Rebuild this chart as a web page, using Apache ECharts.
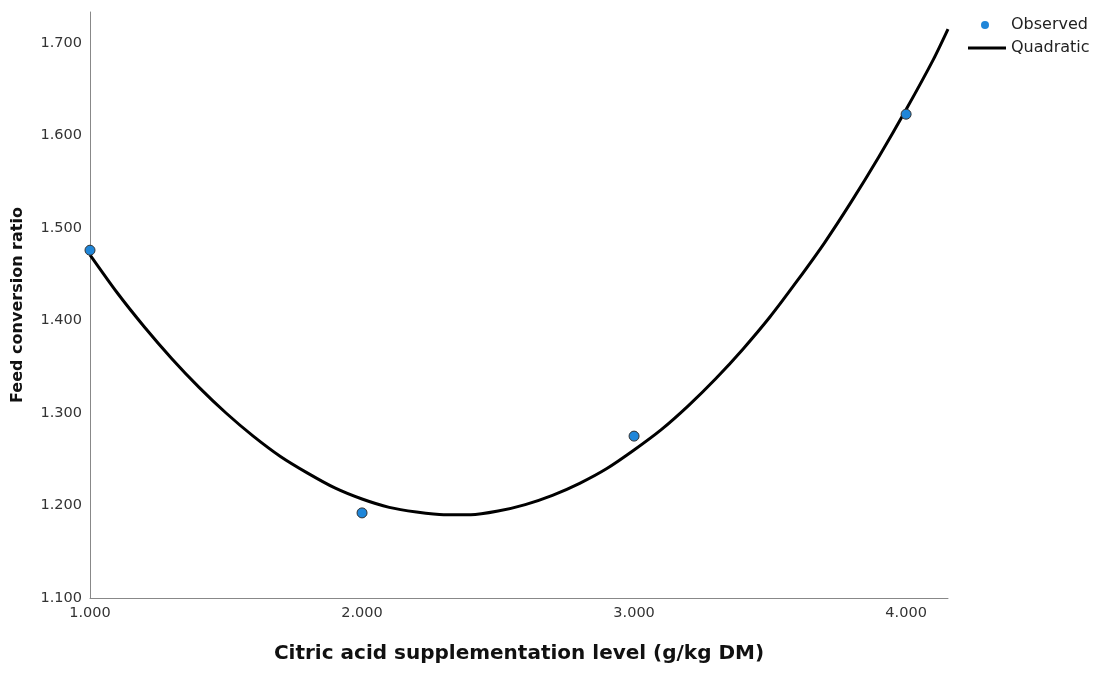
<!DOCTYPE html>
<html>
<head>
<meta charset="utf-8">
<script src="https://cdn.jsdelivr.net/npm/echarts@6/dist/echarts.min.js"></script>
<style>
html,body{margin:0;padding:0;background:#fff;overflow:hidden;}
#chart{width:1098px;height:673px;}
</style>
</head>
<body>
<div id="chart"></div>
<script>
// Observed points
const obsX = [1, 2, 3, 4];
const obsY = [1.476, 1.192, 1.275, 1.623];
// Quadratic curve, values
const curveX = [1.0, 1.1, 1.2, 1.3, 1.4, 1.5, 1.6, 1.7, 1.8, 1.9, 2.0, 2.1, 2.2, 2.3, 2.4, 2.5, 2.6, 2.7, 2.8, 2.9, 3.0, 3.1, 3.2, 3.3, 3.4, 3.5, 3.6, 3.7, 3.8, 3.9, 4.0, 4.1, 4.154];
const curveY = [1.471, 1.430, 1.393, 1.359, 1.328, 1.300, 1.275, 1.253, 1.235, 1.219, 1.207, 1.198, 1.193, 1.190, 1.190, 1.194, 1.201, 1.211, 1.224, 1.240, 1.260, 1.282, 1.308, 1.337, 1.369, 1.404, 1.443, 1.484, 1.529, 1.577, 1.628, 1.682, 1.715];
// Axis settings
const xTicks = [1, 2, 3, 4];
const yTicks = [1.1, 1.2, 1.3, 1.4, 1.5, 1.6, 1.7];

const font = '"DejaVu Sans", "Liberation Sans", Arial, sans-serif';
const chart = echarts.init(document.getElementById('chart'), null, {renderer: 'canvas'});
chart.setOption({
  animation: false,
  backgroundColor: '#fff',
  grid: {left: 90, right: 150, top: 12, bottom: 75, containLabel: false, outerBoundsMode: 'none'},
  legend: [
    {
      left: 976, top: 12, itemWidth: 34, itemHeight: 8, icon: 'circle',
      textStyle: {fontFamily: font, fontSize: 16, color: '#222', padding: [0, 0, 0, 4]},
      itemStyle: {color: '#1f86d9', borderWidth: 0},
      data: ['Observed']
    },
    {
      left: 963, top: 35, itemWidth: 38, itemHeight: 3, icon: 'rect',
      textStyle: {fontFamily: font, fontSize: 16, color: '#222'},
      itemStyle: {color: '#000', borderWidth: 0},
      data: ['Quadratic']
    }
  ],
  xAxis: {
    type: 'value', min: 1, max: 4.154, interval: 1,
    name: 'Citric acid supplementation level (g/kg DM)',
    nameLocation: 'middle', nameGap: 46,
    nameTextStyle: {fontFamily: font, fontSize: 20, fontWeight: 'bold', color: '#111'},
    axisLine: {lineStyle: {color: '#888', width: 1}},
    axisTick: {show: false}, splitLine: {show: false},
    axisLabel: {fontFamily: font, fontSize: 14.5, color: '#333', margin: 8,
      formatter: v => xTicks.some(t => Math.abs(t - v) < 1e-9) ? v.toFixed(3) : ''}
  },
  yAxis: {
    type: 'value', min: 1.1, max: 1.7335, interval: 0.1,
    name: 'Feed conversion ratio',
    nameLocation: 'middle', nameGap: 64, nameRotate: 90,
    nameTextStyle: {fontFamily: font, fontSize: 16, fontWeight: 'bold', color: '#111'},
    axisLine: {show: true, lineStyle: {color: '#888', width: 1}},
    axisTick: {show: false}, splitLine: {show: false},
    axisLabel: {fontFamily: font, fontSize: 14.5, color: '#333', margin: 8,
      formatter: v => yTicks.some(t => Math.abs(t - v) < 1e-6) ? v.toFixed(3) : ''}
  },
  series: [
    {
      name: 'Quadratic', type: 'line', smooth: 0.25, showSymbol: false, symbol: 'none',
      lineStyle: {color: '#000', width: 3, join: 'round'}, itemStyle: {color: '#000'},
      data: curveX.map((x, i) => [x, curveY[i]]), z: 2
    },
    {
      name: 'Observed', type: 'scatter', symbol: 'circle', symbolSize: 10,
      itemStyle: {color: '#1f86d9', borderColor: '#333', borderWidth: 1, opacity: 1},
      data: obsX.map((x, i) => [x, obsY[i]]), z: 3
    }
  ]
});
</script>
</body>
</html>
